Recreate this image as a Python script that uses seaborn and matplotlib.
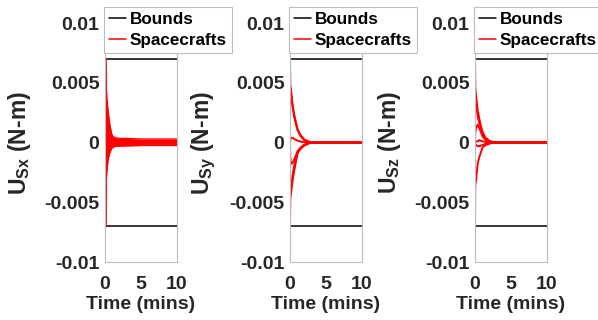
import numpy as np
import pandas as pd
import matplotlib
matplotlib.use("Agg")
import matplotlib.pyplot as plt
import seaborn as sns
from matplotlib.lines import Line2D

# control torque limits (N-m)
bound_t = [0, 10]
bound_hi = [0.007, 0.007]
bound_lo = [-0.007, -0.007]

# U_Sx : chattering signal, read as an upper / lower envelope
t_sx = [0, 0.14, 0.18, 0.26, 0.46, 0.7, 0.9, 1.1, 1.5, 2, 3, 5, 7, 10]
sx_up = [0.007, 0.007, 0.0046, 0.0037, 0.0025, 0.0014, 0.0008, 0.0005, 0.0004, 0.00035, 0.00035, 0.0003, 0.0003, 0.0003]
sx_lo = [-0.007, -0.007, -0.0032, -0.0024, -0.0013, -0.0008, -0.0005, -0.0004, -0.0003, -0.0003, -0.00028, -0.00025, -0.00025, -0.00025]

# U_Sy and U_Sz : one trace per spacecraft
t_s = [0, 0.03, 0.14, 0.37, 0.6, 1.06, 1.5, 2.0, 2.5, 3.0, 4.0, 10.0]
sy = {
    "sc1": [0.007, 0.0048, 0.0044, 0.0031, 0.0023, 0.0011, 0.0006, 0.00025, 0.0001, 0.00003, 0.0, 0.0],
    "sc2": [0.007, 0.0045, 0.0041, 0.0029, 0.0021, 0.0010, 0.0005, 0.0002, 0.00008, 0.0, 0.0, 0.0],
    "sc3": [-0.007, -0.0047, -0.0043, -0.0031, -0.0023, -0.0009, -0.0005, -0.00025, -0.0001, 0.0, 0.0, 0.0],
    "sc4": [-0.007, -0.0041, -0.0037, -0.0027, -0.0019, -0.0008, -0.00045, -0.0002, -0.00008, 0.0, 0.0, 0.0],
    "sc5": [0.0, -0.0011, -0.0018, -0.0017, -0.0014, -0.0007, -0.0004, -0.00018, -0.00005, 0.0, 0.0, 0.0],
    "sc6": [0.0, 0.0002, 0.0004, 0.0004, 0.0003, 0.00015, 0.00008, 0.00003, 0.0, 0.0, 0.0, 0.0],
}
sz = {
    "sc1": [0.007, 0.0045, 0.0040, 0.0027, 0.0020, 0.0007, 0.0004, 0.00015, 0.00005, 0.0, 0.0, 0.0],
    "sc2": [0.007, 0.0038, 0.0034, 0.0022, 0.0016, 0.0009, 0.0003, 0.0001, 0.0, 0.0, 0.0, 0.0],
    "sc3": [-0.007, -0.0036, -0.0032, -0.0018, -0.0012, -0.0004, -0.0002, -0.0001, 0.0, 0.0, 0.0, 0.0],
    "sc4": [0.0, 0.0008, 0.0012, 0.0015, 0.0012, 0.0005, 0.0002, 0.00005, 0.0, 0.0, 0.0, 0.0],
    "sc5": [0.0, -0.0001, -0.0002, -0.0003, -0.0003, -0.0002, -0.0001, 0.0, 0.0, 0.0, 0.0, 0.0],
    "sc6": [0.0, 0.0001, 0.0001, 0.0001, 0.0002, 0.0001, 0.00005, 0.0, 0.0, 0.0, 0.0, 0.0],
}

y_ticks = [-0.01, -0.005, 0, 0.005, 0.01]
y_ticklabels = ["-0.01", "-0.005", "0", "0.005", "0.01"]
x_ticks = [0, 5, 10]
ylabels = [r"$\mathbf{U_{Sx}}$ (N-m)", r"$\mathbf{U_{Sy}}$ (N-m)", r"$\mathbf{U_{Sz}}$ (N-m)"]


def long_df(traces):
    rows = []
    for name, vals in traces.items():
        rows.append(pd.DataFrame({"t": t_s, "u": vals, "craft": name}))
    return pd.concat(rows, ignore_index=True)


sns.set_theme(style="white")
plt.rcParams["font.family"] = ["Liberation Sans", "DejaVu Sans"]
plt.rcParams["font.weight"] = "bold"
plt.rcParams["mathtext.fontset"] = "custom"
plt.rcParams["mathtext.rm"] = "Liberation Sans:bold"
plt.rcParams["mathtext.bf"] = "Liberation Sans:bold"

fig = plt.figure(figsize=(5.98, 3.2), dpi=100)
lefts = [105 / 598, 290 / 598, 475 / 598]
axes = [fig.add_axes([l, 0.181, 0.1204, 0.747]) for l in lefts]

grey = "#bdbdbd"
txt = "#262626"

for i, ax in enumerate(axes):
    sns.lineplot(x=bound_t, y=bound_hi, color="black", lw=1.1, ax=ax)
    sns.lineplot(x=bound_t, y=bound_lo, color="black", lw=1.1, ax=ax)
    if i == 0:
        ax.fill_between(t_sx, sx_lo, sx_up, color="red", lw=0)
        sns.lineplot(x=t_sx, y=sx_up, color="red", lw=0.9, ax=ax)
        sns.lineplot(x=t_sx, y=sx_lo, color="red", lw=0.9, ax=ax)
    else:
        df = long_df(sy if i == 1 else sz)
        sns.lineplot(data=df, x="t", y="u", units="craft", estimator=None,
                     sort=False, color="red", lw=1.4, ax=ax)
    ax.set_xlim(0, 10)
    ax.set_ylim(-0.01, 0.01)
    ax.set_xticks(x_ticks)
    ax.set_xticklabels([str(v) for v in x_ticks])
    ax.set_yticks(y_ticks)
    ax.set_yticklabels(y_ticklabels)
    ax.tick_params(axis="both", direction="in", length=2.5, color=grey,
                   labelsize=14, labelcolor=txt)
    ax.tick_params(axis="x", pad=10)
    ax.tick_params(axis="y", pad=4)
    for lab in ax.get_xticklabels() + ax.get_yticklabels():
        lab.set_fontweight("bold")
    for s in ax.spines.values():
        s.set_color(grey)
        s.set_linewidth(0.8)
    ax.set_xlabel("Time (mins)", fontsize=14, fontweight="bold", color=txt)
    ax.xaxis.set_label_coords(0.5, -0.14)
    ax.set_ylabel(ylabels[i], fontsize=16.5, fontweight="bold", color=txt)
    ax.yaxis.set_label_coords(-1.0, 0.5)

    handles = [Line2D([], [], color="black", lw=1.1), Line2D([], [], color="red", lw=1.1)]
    leg = ax.legend(handles, ["Bounds", "Spacecrafts"], loc="upper left",
                    bbox_to_anchor=(-0.015, 1.067), borderaxespad=0,
                    prop={"size": 12.3, "weight": "bold"}, frameon=True,
                    fancybox=False, framealpha=1, edgecolor=grey,
                    borderpad=0.3, labelspacing=0.32, handlelength=1.0,
                    handletextpad=0.2)
    leg.get_frame().set_linewidth(0.8)
    for t in leg.get_texts():
        t.set_color("black")

fig.savefig("out.png", dpi=100)
